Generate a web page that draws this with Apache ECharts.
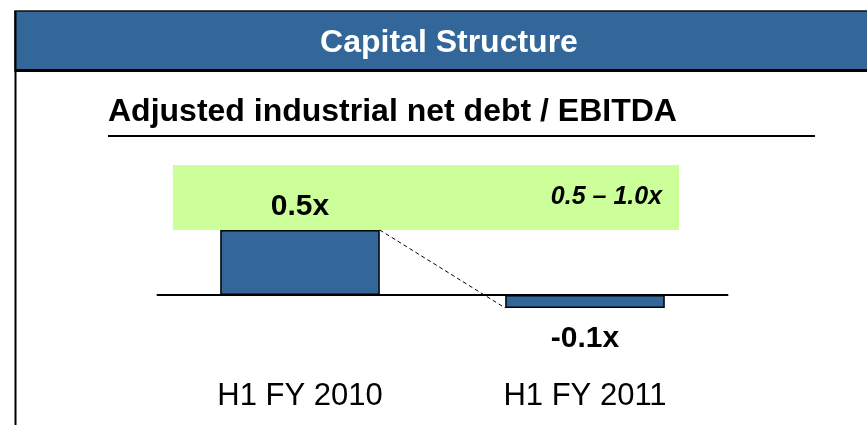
<!DOCTYPE html>
<html>
<head>
<meta charset="utf-8">
<script src="https://cdn.jsdelivr.net/npm/echarts@6/dist/echarts.min.js"></script>
<style>html,body{margin:0;padding:0;background:#fff}#c{width:867px;height:425px}</style>
</head>
<body>
<div id="c"></div>
<script>
// ---- data ----
var headerTitle = 'Capital Structure';
var chartTitle = 'Adjusted industrial net debt / EBITDA';
var categories = ['H1 FY 2010', 'H1 FY 2011'];
var values = [0.5, -0.1];
var targetRange = [0.5, 1.0];

// ---- styling constants ----
var BAR_FRAC = 0.56;
var BLUE = '#336699';
var FONT = 'Liberation Sans, Arial, sans-serif';

function fmtX(v) { return v.toFixed(1) + 'x'; }

// dashed connector from top-right of bar 1 to bottom-left of bar 2 (value x-axis 0..n)
var connector = [
  [0.5 + BAR_FRAC / 2, values[0]],
  [1.5 - BAR_FRAC / 2, values[1]]
];

var chart = echarts.init(document.getElementById('c'), null, {renderer: 'canvas'});
chart.setOption({
  animation: false,
  backgroundColor: '#fff',
  grid: {left: 157.5, right: 867 - 727.5, top: 152, bottom: 425 - 321},
  xAxis: [
    {
      type: 'category', data: categories,
      axisLine: {onZero: true, lineStyle: {color: '#000', width: 2}},
      axisTick: {show: false},
      axisLabel: {margin: 60, fontFamily: FONT, fontSize: 31, color: '#000'}
    },
    {type: 'value', min: 0, max: categories.length, show: false}
  ],
  yAxis: {
    type: 'value', min: -0.2, max: 1.1, show: false, splitLine: {show: false}
  },
  series: [
    {
      type: 'line', xAxisIndex: 1, data: [], z: 0, silent: true,
      markArea: {
        silent: true,
        itemStyle: {color: '#CCFF99'},
        label: {
          show: true, position: 'insideRight', distance: 17,
          formatter: targetRange[0].toFixed(1) + ' \u2013 ' + fmtX(targetRange[1]),
          fontFamily: FONT, fontSize: 25, fontWeight: 'bold', fontStyle: 'italic', color: '#000'
        },
        data: [[{coord: [0.054, targetRange[0]]}, {coord: [1.83, targetRange[1]]}]]
      }
    },
    {
      type: 'bar', data: values.map(function (v) {
        return {
          value: v,
          label: {position: v >= 0 ? 'top' : 'bottom', distance: v >= 0 ? 8 : 16}
        };
      }),
      barWidth: (BAR_FRAC * 100) + '%', z: 3,
      itemStyle: {color: BLUE, borderColor: '#000', borderWidth: 1.5},
      label: {
        show: true, fontFamily: FONT, fontSize: 30, fontWeight: 'bold', color: '#000',
        formatter: function (p) { return fmtX(p.value); }
      }
    },
    {
      type: 'line', xAxisIndex: 1, data: connector, z: 4, symbol: 'none', silent: true,
      lineStyle: {color: '#000', width: 1, type: [4, 3]}
    }
  ],
  graphic: [
    {type: 'rect', shape: {x: 15, y: 11, width: 860, height: 60},
     style: {fill: BLUE, stroke: '#111', lineWidth: 1.5}, z: 10},
    {type: 'line', shape: {x1: 15, y1: 70.5, x2: 867, y2: 70.5}, style: {stroke: '#000', lineWidth: 3}, z: 11},
    {type: 'line', shape: {x1: 15.5, y1: 11, x2: 15.5, y2: 425}, style: {stroke: '#000', lineWidth: 2}, z: 11},
    {type: 'text', x: 449, y: 43, z: 12,
     style: {text: headerTitle, fill: '#fff', font: 'bold 32px ' + FONT, textAlign: 'center', textVerticalAlign: 'middle'}},
    {type: 'text', x: 108, y: 112, z: 12,
     style: {text: chartTitle, fill: '#000', font: 'bold 32px ' + FONT, textAlign: 'left', textVerticalAlign: 'middle'}},
    {type: 'line', shape: {x1: 108, y1: 136, x2: 815, y2: 136}, style: {stroke: '#000', lineWidth: 2}, z: 11}
  ]
});
</script>
</body>
</html>
